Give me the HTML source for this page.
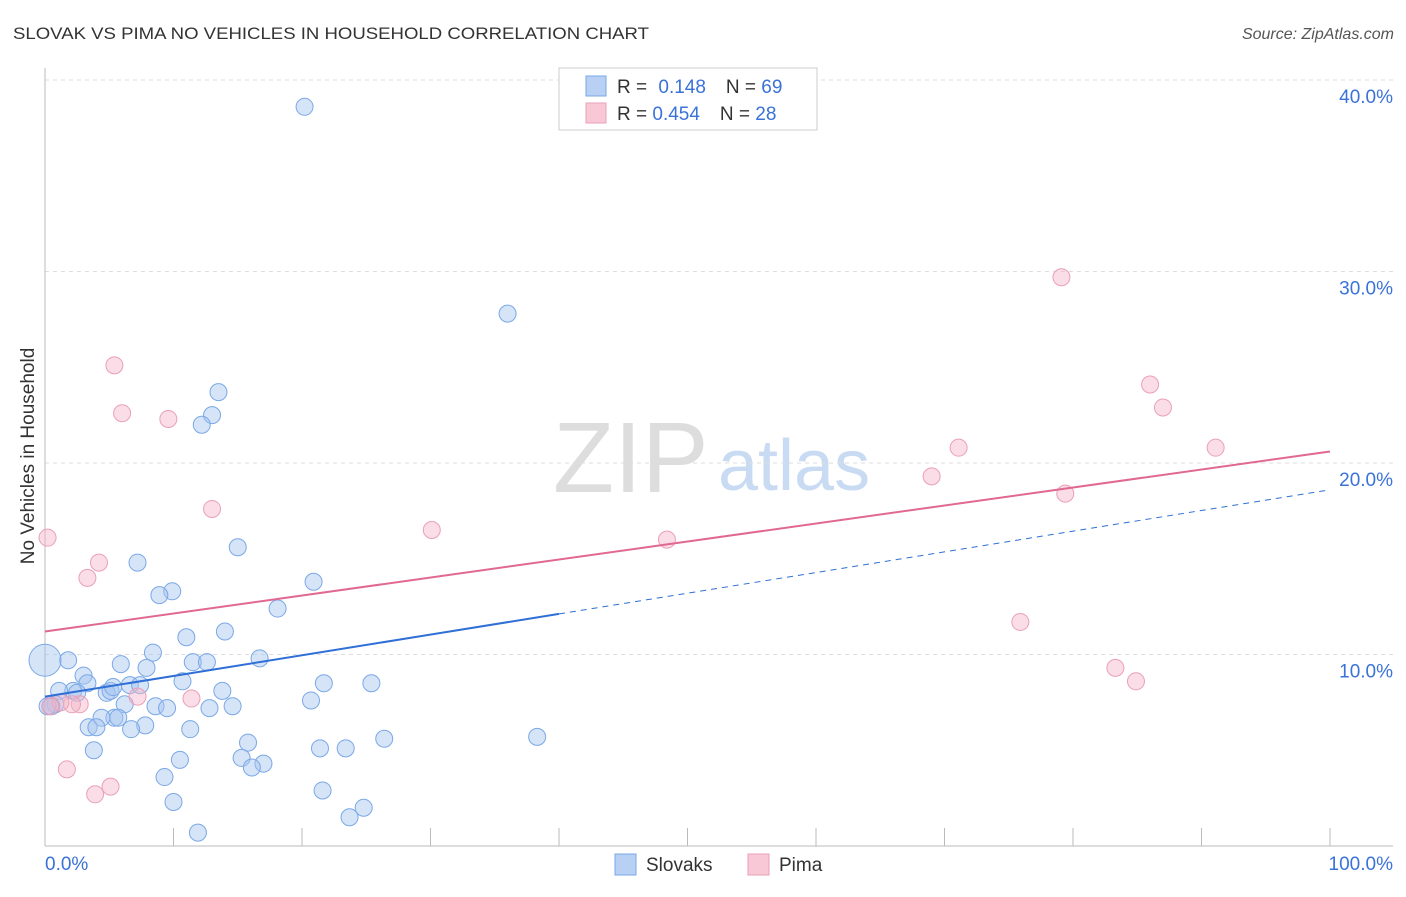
<!DOCTYPE html>
<html><head><meta charset="utf-8"><style>
body{margin:0;background:#fff;font-family:"Liberation Sans",sans-serif}
svg text{font-family:"Liberation Sans",sans-serif}
</style></head><body>
<svg id="c" width="1406" height="892">
<text x="13" y="39" font-size="17" fill="#333" textLength="636" lengthAdjust="spacingAndGlyphs">SLOVAK VS PIMA NO VEHICLES IN HOUSEHOLD CORRELATION CHART</text>
<text x="1394" y="39" font-size="16" fill="#555" font-style="italic" text-anchor="end">Source: ZipAtlas.com</text>
<text transform="translate(34,456) rotate(-90)" font-size="19" fill="#333" text-anchor="middle">No Vehicles in Household</text>
<text x="553" y="492" font-size="100" fill="#ddd" font-family="Liberation Serif">ZIP</text>
<text x="718" y="490" font-size="72" fill="#c9dbf3">atlas</text>
<g id="grid"></g><g id="marks"></g>
<g>
<rect x="559" y="68" width="258" height="62" fill="#fff" stroke="#ccc"/>
<rect x="586" y="76" width="20" height="20" fill="#b7d0f4" stroke="#7aa8e6"/>
<rect x="586" y="103" width="20" height="20" fill="#f8c8d6" stroke="#eaa0b8"/>
<text x="617" y="93" font-size="19" fill="#333">R = <tspan fill="#3a72d8" dx="6">0.148</tspan><tspan dx="20" fill="#333">N = </tspan><tspan fill="#3a72d8">69</tspan></text>
<text x="617" y="120" font-size="19" fill="#333">R = <tspan fill="#3a72d8" dx="0">0.454</tspan><tspan dx="20" fill="#333">N = </tspan><tspan fill="#3a72d8">28</tspan></text>
</g>
<g>
<rect x="615" y="854" width="21" height="21" fill="#b7d0f4" stroke="#7aa8e6"/>
<text x="646" y="871" font-size="19" fill="#333">Slovaks</text>
<rect x="748" y="854" width="21" height="21" fill="#f8c8d6" stroke="#eaa0b8"/>
<text x="779" y="871" font-size="19" fill="#333">Pima</text>
</g>
<text x="45" y="870" font-size="19" fill="#3a72d8">0.0%</text>
<text x="1393" y="870" font-size="19" fill="#3a72d8" text-anchor="end">100.0%</text>
</svg>
<script>
const yTicks=[10,20,30,40];
const yTickLabels=["10.0%","20.0%","30.0%","40.0%"];
const slovakX=[20.2,36.0,13.5,13.0,12.2,15.0,7.2,9.9,8.9,20.9,18.1,14.0,11.0,8.4,1.8,5.9,7.9,11.5,12.6,16.7,3.0,3.3,10.7,6.6,7.4,4.8,5.1,2.2,2.5,1.1,13.8,21.7,25.4,20.7,0.8,0.5,6.2,8.6,9.5,12.8,14.6,5.4,4.4,5.7,7.8,6.7,3.4,4.0,11.3,15.8,26.4,38.3,3.8,21.4,23.4,10.5,15.3,17.0,16.1,9.3,21.6,10.0,24.8,23.7,11.9,0.2,5.3];
const slovakY=[38.6,27.8,23.7,22.5,22.0,15.6,14.8,13.3,13.1,13.8,12.4,11.2,10.9,10.1,9.7,9.5,9.3,9.6,9.6,9.8,8.9,8.5,8.6,8.4,8.4,8.0,8.1,8.1,8.0,8.1,8.1,8.5,8.5,7.6,7.4,7.3,7.4,7.3,7.2,7.2,7.3,6.7,6.7,6.7,6.3,6.1,6.2,6.2,6.1,5.4,5.6,5.7,5.0,5.1,5.1,4.5,4.6,4.3,4.1,3.6,2.9,2.3,2.0,1.5,0.7,7.3,8.3];
const pimaX=[79.1,5.4,86.0,87.0,6.0,9.6,71.1,91.1,69.0,79.4,13.0,30.1,48.4,0.2,4.2,3.3,75.9,83.3,84.9,11.4,2.7,2.1,7.2,1.7,5.1,3.9,1.2,0.4];
const pimaY=[29.7,25.1,24.1,22.9,22.6,22.3,20.8,20.8,19.3,18.4,17.6,16.5,16.0,16.1,14.8,14.0,11.7,9.3,8.6,7.7,7.4,7.4,7.8,4.0,3.1,2.7,7.5,7.3];
const bigSlovak=[0,9.7];
const slovakTrend=[7.8,18.6];
const pimaTrend=[11.2,20.6];
const slovakSolidEnd=40;
const NS="http://www.w3.org/2000/svg";
const X=v=>45+v*12.85, Y=v=>846-v*19.15;
function mk(t,a,p){const e=document.createElementNS(NS,t);for(const k in a)e.setAttribute(k,a[k]);p.appendChild(e);return e;}
const g=document.getElementById('grid'),m=document.getElementById('marks');
yTicks.forEach((t,i)=>{
 const l=mk('line',{x1:45,x2:1393,y1:Y(t),y2:Y(t),stroke:'#ddd','stroke-dasharray':'4,4'},g);
 
 
 const tx=mk('text',{x:1393,y:Y(t)+23,'font-size':19,fill:'#3a72d8','text-anchor':'end'},g);
 tx.textContent=yTickLabels[i];
 
 
});
const ax=mk('line',{x1:45,x2:45,y1:68,y2:846,stroke:'#bbb'},g);


const bx=mk('line',{x1:45,x2:1393,y1:846,y2:846,stroke:'#bbb'},g);


for(let i=0;i<=10;i++){const t=mk('line',{x1:X(i*10),x2:X(i*10),y1:828,y2:846,stroke:'#bbb'},g);
 
 }
slovakX.forEach((x,i)=>{const c=mk('circle',{cx:X(x),cy:Y(slovakY[i]),r:8.5,fill:'rgba(164,196,240,0.45)',stroke:'#7aa8e6','stroke-width':1},m);
 
 });
const bc=mk('circle',{cx:X(bigSlovak[0]),cy:Y(bigSlovak[1]),r:16,fill:'rgba(164,196,240,0.45)',stroke:'#7aa8e6'},m);


pimaX.forEach((x,i)=>{const c=mk('circle',{cx:X(x),cy:Y(pimaY[i]),r:8.5,fill:'rgba(244,180,200,0.45)',stroke:'#eaa0b8','stroke-width':1},m);
 
 });
const sy=x=>slovakTrend[0]+(slovakTrend[1]-slovakTrend[0])*x/100;
const l1=mk('line',{x1:X(0),y1:Y(sy(0)),x2:X(slovakSolidEnd),y2:Y(sy(slovakSolidEnd)),stroke:'#2f6fd6','stroke-width':2},m);


const l2=mk('line',{x1:X(slovakSolidEnd),y1:Y(sy(slovakSolidEnd)),x2:X(100),y2:Y(sy(100)),stroke:'#2f6fd6','stroke-width':1,'stroke-dasharray':'6,5'},m);


const l3=mk('line',{x1:X(0),y1:Y(pimaTrend[0]),x2:X(100),y2:Y(pimaTrend[1]),stroke:'#e06892','stroke-width':2},m);


</script>
</body></html>
